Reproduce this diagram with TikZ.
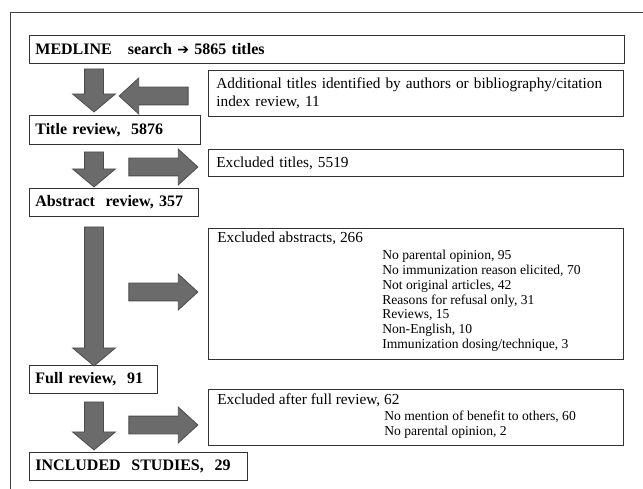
\documentclass[tikz,border=0pt]{standalone}
\usepackage{fontspec}
\setmainfont{Liberation Serif}
\newfontfamily\symfont{DejaVu Sans}
\usetikzlibrary{shapes.arrows}

\begin{document}
\begin{tikzpicture}[
            x = 1pt, y = -1pt, % pixel units, y grows downwards
            semithick % line style
        ]

        \tikzstyle{stage}=[
            draw = black!80,
            thick,
            anchor = north west,
            inner xsep = 6pt,
            align = left,
            font = \fontsize{16}{19}\selectfont\bfseries
        ]
        \tikzstyle{note}=[
            draw = black!80,
            thick,
            anchor = north west,
            inner xsep = 8pt,
            align = left,
            minimum width = 415pt,
            font = \fontsize{15.3}{18.5}\selectfont
        ]
        \tikzstyle{sublist}=[
            anchor = north west,
            inner sep = 0pt,
            align = left,
            font = \fontsize{13.6}{14.8}\selectfont
        ]
        \tikzstyle{blockarrow}=[
            single arrow,
            draw = black!70,
            fill = black!58,
            thick,
            single arrow head indent = 0pt
        ]
        \tikzstyle{downarr}=[blockarrow, shape border rotate = 270,
            inner sep = 9pt, single arrow head extend = 12pt, single arrow tip angle = 100]
        \tikzstyle{sidearr}=[blockarrow, minimum height = 69pt,
            inner sep = 8.5pt, single arrow head extend = 9pt, single arrow tip angle = 85]

        \useasboundingbox (0,0) rectangle (643,489);
        \draw[black!75] (10,489) -- (10,12) -- (643,12);

        % main stages
        \node[stage, text width = 583pt, minimum height = 28pt] (medline) at (29,35)
            {MEDLINE\ \ \ search {\symfont\fontsize{14}{16}\selectfont ➔} 5865 titles};
        \node[stage, text width = 159pt, minimum height = 29pt] (title) at (29,115)
            {Title review,\ \ 5876};
        \node[stage, text width = 157pt, minimum height = 28pt] (abstract) at (29,188)
            {Abstract\ \ review,\ 357};
        \node[stage, text width = 116pt, minimum height = 28pt] (full) at (29,365)
            {Full review,\ \ 91};
        \node[stage, text width = 206pt, minimum height = 28pt] (included) at (29,452)
            {INCLUDED\ \ STUDIES,\ \ 29};

        % side boxes
        \node[note, text width = 399pt, minimum height = 46pt] (extra) at (208,70)
            {Additional titles identified by authors or bibliography/citation\\index\ review, 11};
        \node[note, text width = 399pt, minimum height = 27pt] (extitles) at (208,149)
            {Excluded\ titles, 5519};
        \node[note, minimum height = 131pt] (exabs) at (208,228) {};
        \node[note, minimum height = 56pt] (exfull) at (208,389) {};

        \node[sublist, font = \fontsize{15.3}{18.5}\selectfont] (exabshead)
            at ([shift={(9,4)}]exabs.north west) {Excluded\ abstracts, 266};
        \node[sublist] (exabslist) at ([shift={(174,22)}]exabs.north west)
            {No parental opinion, 95\\
             No immunization reason elicited, 70\\
             Not original articles, 42\\
             Reasons for refusal\ only, 31\\
             Reviews, 15\\
             Non-English, 10\\
             Immunization dosing/technique, 3};
        \node[sublist, font = \fontsize{15.3}{18.5}\selectfont] (exfullhead)
            at ([shift={(9,4)}]exfull.north west) {Excluded\ after full review, 62};
        \node[sublist] (exfulllist) at ([shift={(176,22)}]exfull.north west)
            {No mention of benefit to others, 60\\
             No parental opinion, 2};

        % block arrows
        \node[downarr, minimum height = 43pt] (d1) at (94,86.5) {};
        \node[sidearr, shape border rotate = 180] (l1) at (158.5,96) {};
        \node[downarr, minimum height = 35pt] (d2) at (94,165.5) {};
        \node[sidearr] (r2) at (158.5,167) {};
        \node[downarr, minimum height = 139pt] (d3) at (94,292.5) {};
        \node[sidearr] (r3) at (158.5,292) {};
        \node[downarr, minimum height = 48pt] (d4) at (94,422) {};
        \node[sidearr] (r4) at (158.5,425) {};

  \end{tikzpicture}
\end{document}
